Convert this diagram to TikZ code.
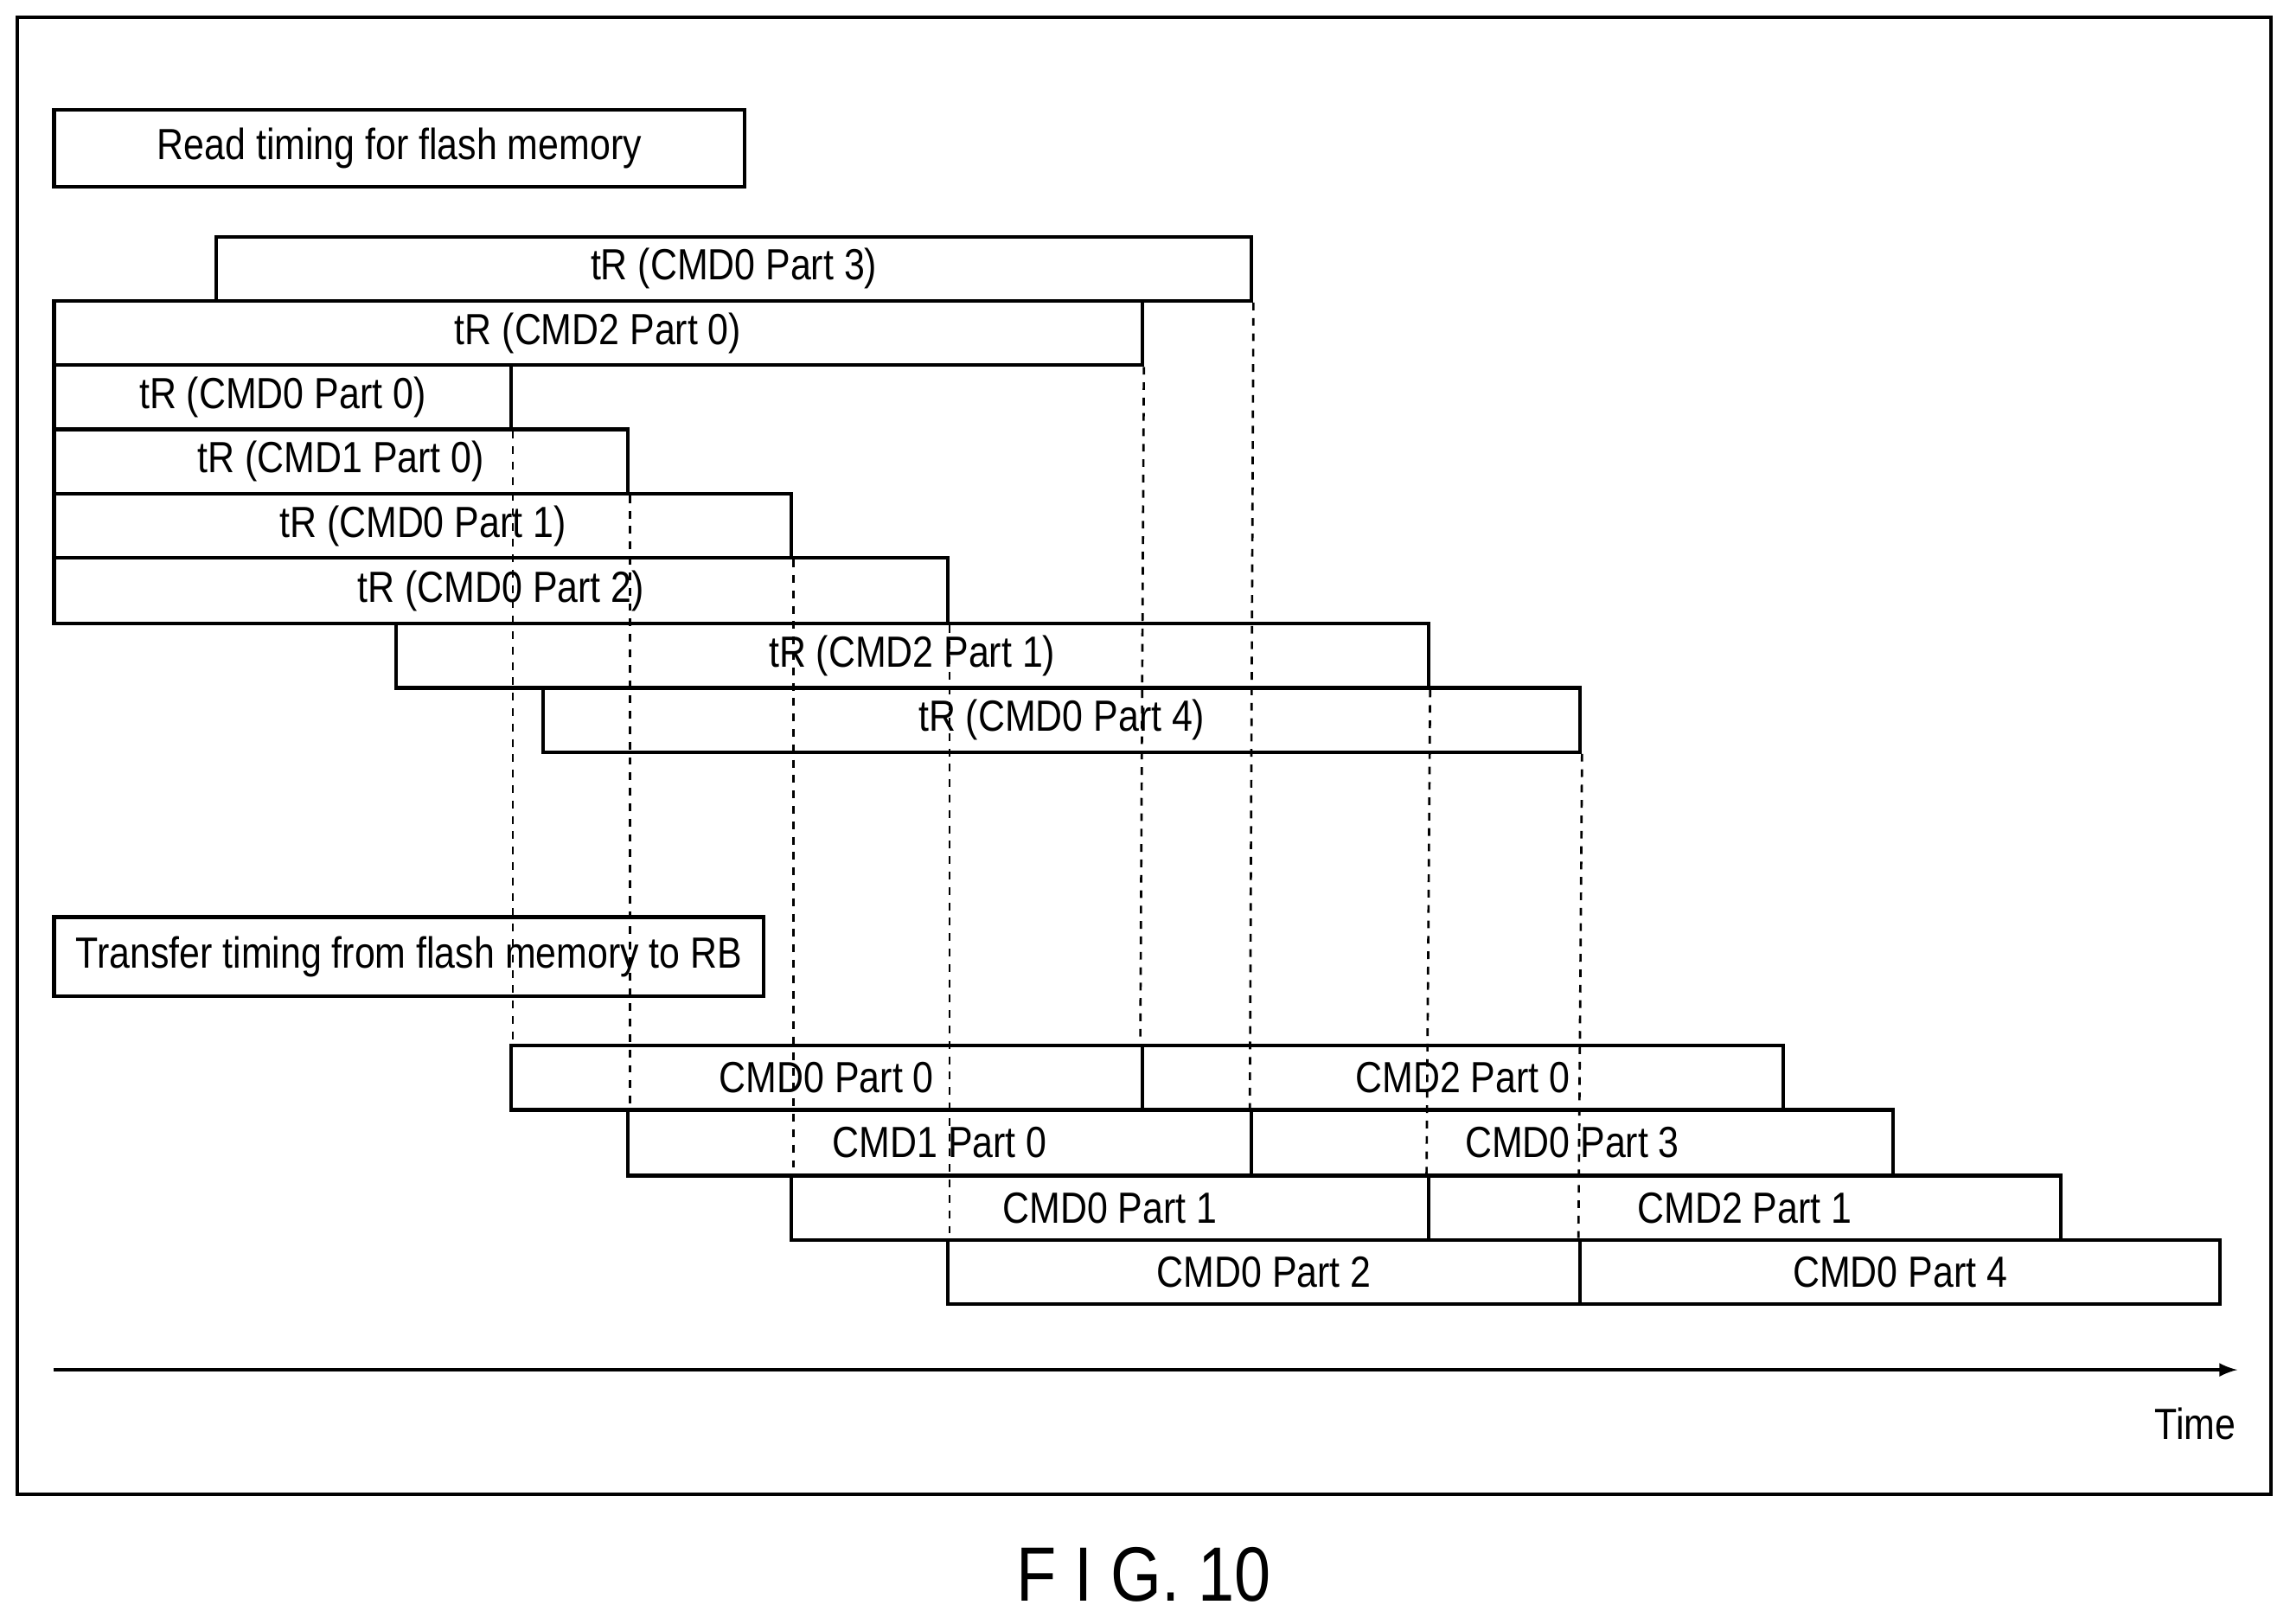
\documentclass[tikz,border=0pt]{standalone}
\usepackage{fontspec}
\setmainfont{Liberation Sans}[FakeStretch=0.85]
\usetikzlibrary{fit}
\begin{document}
\begin{tikzpicture}[x=0.02cm,y=-0.02cm,
  bx/.style={draw,line width=1.4pt,inner sep=0pt},
  dl/.style={dashed,line width=0.9pt},
  every label/.style={font=\fontsize{17}{20}\selectfont,inner sep=0pt}]
\useasboundingbox (0,0) rectangle (1568,1112);
\node[bx,fit={(12,12)(1555,1023)}] (frame) {};
\newcommand\bx[6]{\node[bx,fit={(#2,#3)(#4,#5)},label=center:{#6}] (#1) {};}
\bx{h1}{37}{75}{510}{128}{Read timing for flash memory}
\bx{r1}{148}{162}{857}{206}{tR (CMD0 Part 3)}
\bx{r2}{37}{206}{782}{250}{tR (CMD2 Part 0)}
\bx{r3}{37}{250}{350}{294}{tR (CMD0 Part 0)}
\bx{r4}{37}{294}{430}{338}{tR (CMD1 Part 0)}
\bx{r5}{37}{338}{542}{382}{tR (CMD0 Part 1)}
\bx{r6}{37}{382}{649}{427}{tR (CMD0 Part 2)}
\bx{r7}{271}{427}{978}{471}{tR (CMD2 Part 1)}
\bx{r8}{372}{471}{1082}{515}{tR (CMD0 Part 4)}
\bx{h2}{37}{628}{523}{682}{Transfer timing from flash memory to RB}
\bx{a1}{350}{716}{782}{760}{CMD0 Part 0}
\bx{b1}{782}{716}{1221}{760}{CMD2 Part 0}
\bx{a2}{430}{760}{857}{805}{CMD1 Part 0}
\bx{b2}{857}{760}{1296}{805}{CMD0 Part 3}
\bx{a3}{542}{805}{978}{849}{CMD0 Part 1}
\bx{b3}{978}{805}{1411}{849}{CMD2 Part 1}
\bx{a4}{649}{849}{1082}{893}{CMD0 Part 2}
\bx{b4}{1082}{849}{1520}{893}{CMD0 Part 4}
\draw[dl] (r3.south east) -- (r3.south east |- a1.north);
\draw[dl] (r4.south east) -- (r4.south east |- a2.north);
\draw[dl] (r5.south east) -- (r5.south east |- a3.north);
\draw[dl] (r6.south east) -- (r6.south east |- a4.north);
\draw[dl] (r2.south east) -- (b1.north west);
\draw[dl] (r1.south east) -- (b2.north west);
\draw[dl] (r7.south east) -- (b3.north west);
\draw[dl] (r8.south east) -- (b4.north west);
\coordinate (t0) at (37,938);
\coordinate (t1) at (1532,938);
\draw[line width=1.4pt,-latex] (t0) -- (t1);
\node[font=\fontsize{17}{20}\selectfont] (time) at (1503,975) {Time};
\node[font=\fontsize{30}{34}\selectfont] (fig) at (783,1078) {F I G. 10};
\end{tikzpicture}
\end{document}
